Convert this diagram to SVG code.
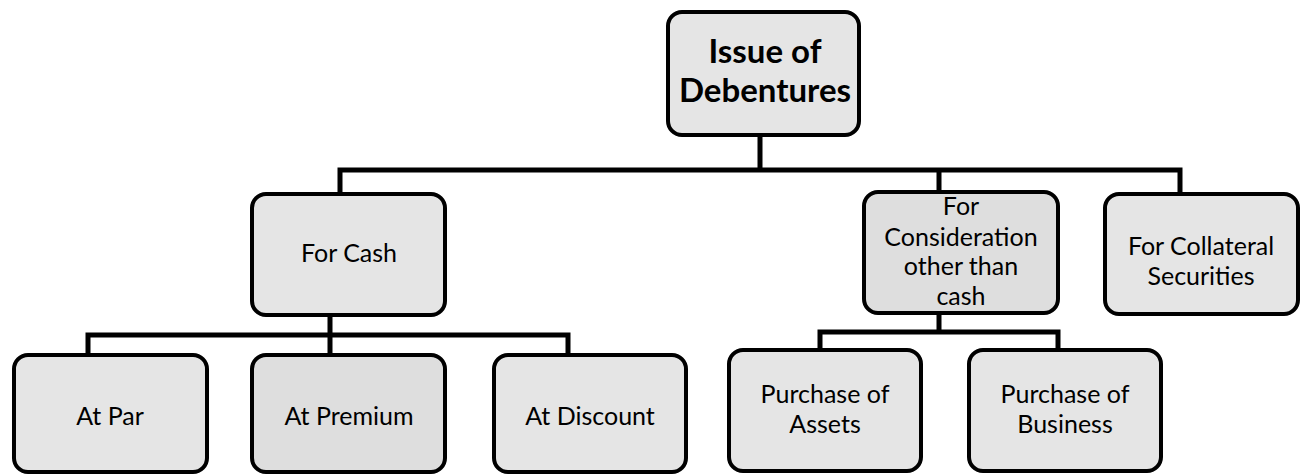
<svg xmlns="http://www.w3.org/2000/svg" width="1301" height="476" viewBox="0 0 1301 476">
<style>
.box{fill:#e5e5e5;stroke:#000;stroke-width:4}
.dark{fill:#dedede}
.lbl{font-family:Lato,"Liberation Sans",sans-serif;font-size:25px;fill:#000;text-anchor:middle}
.title{font-family:Lato,"Liberation Sans",sans-serif;font-size:33px;font-weight:bold;fill:#000;text-anchor:middle}
.conn{fill:none;stroke:#000;stroke-width:5}
</style>
<rect width="1301" height="476" fill="#fff"/>
<g id="connectors">
<path class="conn" d="M340 192 V170 H1180 V192 M760 137 V170 M939 170 V190"/>
<path class="conn" d="M330 317 V335 M88 353 V335 H568 V353 M330 335 V353"/>
<path class="conn" d="M939 315 V332 M820 348 V332 H1058 V348"/>
</g>
<g id="root">
<rect class="box" x="668" y="12" width="191" height="123" rx="14"/>
<text class="title" x="765" y="63">Issue of</text>
<text class="title" x="765" y="102">Debentures</text>
</g>
<g id="cash">
<rect class="box" x="252" y="194" width="193" height="121" rx="14"/>
<text class="lbl" x="349" y="262">For Cash</text>
</g>
<g id="consideration">
<rect class="box dark" x="864" y="192" width="194" height="121" rx="14"/>
<text class="lbl" x="961" y="215">For</text>
<text class="lbl" x="961" y="246">Consideration</text>
<text class="lbl" x="961" y="275">other than</text>
<text class="lbl" x="961" y="305">cash</text>
</g>
<g id="collateral">
<rect class="box" x="1105" y="194" width="193" height="120" rx="14"/>
<text class="lbl" x="1201" y="255">For Collateral</text>
<text class="lbl" x="1201" y="285">Securities</text>
</g>
<g id="par">
<rect class="box" x="14" y="355" width="193" height="117" rx="14"/>
<text class="lbl" x="110" y="425">At Par</text>
</g>
<g id="premium">
<rect class="box dark" x="252" y="355" width="193" height="117" rx="14"/>
<text class="lbl" x="349" y="425">At Premium</text>
</g>
<g id="discount">
<rect class="box" x="494" y="355" width="192" height="117" rx="14"/>
<text class="lbl" x="590" y="425">At Discount</text>
</g>
<g id="assets">
<rect class="box" x="729" y="350" width="192" height="121" rx="14"/>
<text class="lbl" x="825" y="403">Purchase of</text>
<text class="lbl" x="825" y="433">Assets</text>
</g>
<g id="business">
<rect class="box" x="969" y="350" width="192" height="121" rx="14"/>
<text class="lbl" x="1065" y="403">Purchase of</text>
<text class="lbl" x="1065" y="433">Business</text>
</g>
</svg>
